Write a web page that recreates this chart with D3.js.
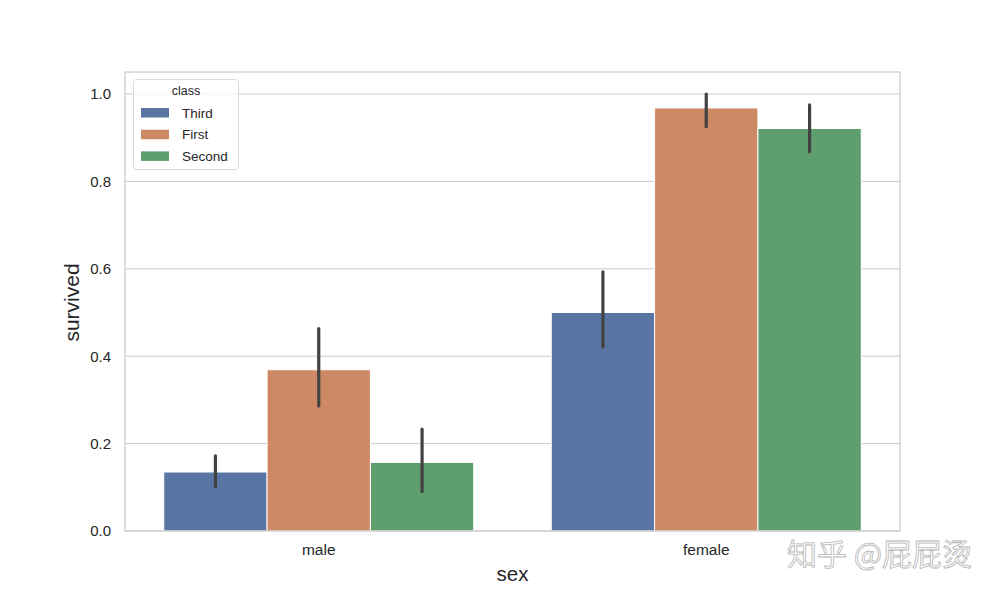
<!DOCTYPE html>
<html><head><meta charset="utf-8">
<script src="https://cdn.jsdelivr.net/npm/d3@7"></script>
<style>body{margin:0;background:#fff;} svg{display:block;font-family:"Liberation Sans",Arial,sans-serif;}</style>
</head><body><svg id="c" width="1000" height="597"></svg>
<script>
const sexes = ["male", "female"];
const classes = ["Third", "First", "Second"];
const colors = ["#5875a4", "#cc8963", "#5f9e6e"];
const survivedMale = [0.135, 0.369, 0.157];
const survivedFemale = [0.500, 0.968, 0.921];
const ciLowMale = [0.101, 0.286, 0.090];
const ciHighMale = [0.172, 0.463, 0.233];
const ciLowFemale = [0.421, 0.925, 0.868];
const ciHighFemale = [0.593, 1.000, 0.975];
const yTicks = [0, 0.2, 0.4, 0.6, 0.8, 1.0];

const data = [];
sexes.forEach((s, i) => {
  const v = i === 0 ? survivedMale : survivedFemale;
  const lo = i === 0 ? ciLowMale : ciLowFemale;
  const hi = i === 0 ? ciHighMale : ciHighFemale;
  classes.forEach((c, j) => data.push({sex: s, cls: c, v: v[j], lo: lo[j], hi: hi[j], color: colors[j]}));
});

const svg = d3.select("#c");
const L = 125, R = 900, T = 72, B = 531;
const x = d3.scaleBand().domain(sexes).range([L, R]).paddingInner(0.2).paddingOuter(0.1);
const xi = d3.scaleBand().domain(classes).range([0, x.bandwidth()]);
const y = d3.scaleLinear().domain([0, 1.0503]).range([B, T]);

// grid
svg.append("g").selectAll("line").data(yTicks).join("line")
  .attr("x1", L).attr("x2", R).attr("y1", d => y(d)).attr("y2", d => y(d))
  .attr("stroke", "#cccccc").attr("stroke-width", 1);

// bars
svg.append("g").selectAll("rect").data(data).join("rect")
  .attr("x", d => x(d.sex) + xi(d.cls))
  .attr("width", xi.bandwidth())
  .attr("y", d => y(d.v))
  .attr("height", d => y(0) - y(d.v))
  .attr("fill", d => d.color)
  .attr("stroke", "#ffffff").attr("stroke-width", 1);

// error bars
svg.append("g").selectAll("line").data(data).join("line")
  .attr("x1", d => x(d.sex) + xi(d.cls) + xi.bandwidth() / 2)
  .attr("x2", d => x(d.sex) + xi(d.cls) + xi.bandwidth() / 2)
  .attr("y1", d => y(d.lo)).attr("y2", d => y(d.hi))
  .attr("stroke", "#424242").attr("stroke-width", 3.2).attr("stroke-linecap", "round");

// spines
svg.append("rect").attr("x", L).attr("y", T).attr("width", R - L).attr("height", B - T)
  .attr("fill", "none").attr("stroke", "#cccccc").attr("stroke-width", 1.3);

// axes
const yAxis = svg.append("g").attr("transform", `translate(${L},0)`)
  .call(d3.axisLeft(y).tickValues(yTicks).tickFormat(d3.format(".1f")).tickSize(0).tickPadding(14));
yAxis.select(".domain").remove();
yAxis.selectAll("text").attr("font-size", 15).attr("fill", "#262626").attr("font-family", "Liberation Sans, Arial, sans-serif");

const xAxis = svg.append("g").attr("transform", `translate(0,${B})`)
  .call(d3.axisBottom(x).tickSize(0).tickPadding(13));
xAxis.select(".domain").remove();
xAxis.selectAll("text").attr("font-size", 15.5).attr("fill", "#262626").attr("font-family", "Liberation Sans, Arial, sans-serif");

svg.append("text").attr("x", (L + R) / 2).attr("y", 581).attr("text-anchor", "middle")
  .attr("font-size", 20.5).attr("fill", "#262626").text("sex");
svg.append("text").attr("transform", `translate(79,${(T + B) / 2 + 1}) rotate(-90)`).attr("text-anchor", "middle")
  .attr("font-size", 21).attr("fill", "#262626").text("survived");

// legend
const lg = svg.append("g");
lg.append("rect").attr("x", 133.5).attr("y", 79.5).attr("width", 105).attr("height", 90).attr("rx", 3)
  .attr("fill", "#ffffff").attr("fill-opacity", 0.8).attr("stroke", "#d9d9d9").attr("stroke-width", 1);
lg.append("text").attr("x", 186).attr("y", 95).attr("text-anchor", "middle").attr("font-size", 12.5).attr("fill", "#262626").text("class");
classes.forEach((c, j) => {
  lg.append("rect").attr("x", 141).attr("y", 108 + j * 21.7).attr("width", 28).attr("height", 9.5).attr("fill", colors[j]);
  lg.append("text").attr("x", 182).attr("y", 117.5 + j * 21.7).attr("font-size", 13.5).attr("fill", "#262626").text(c);
});

// watermark
svg.append("text").attr("x", 787).attr("y", 565).attr("font-size", 30)
  .attr("font-family", "Noto Sans CJK SC, sans-serif").attr("fill", "#ffffff")
  .attr("stroke", "#b5b5b5").attr("stroke-width", 0.8).text("知乎 @屁屁烫");
</script></body></html>
